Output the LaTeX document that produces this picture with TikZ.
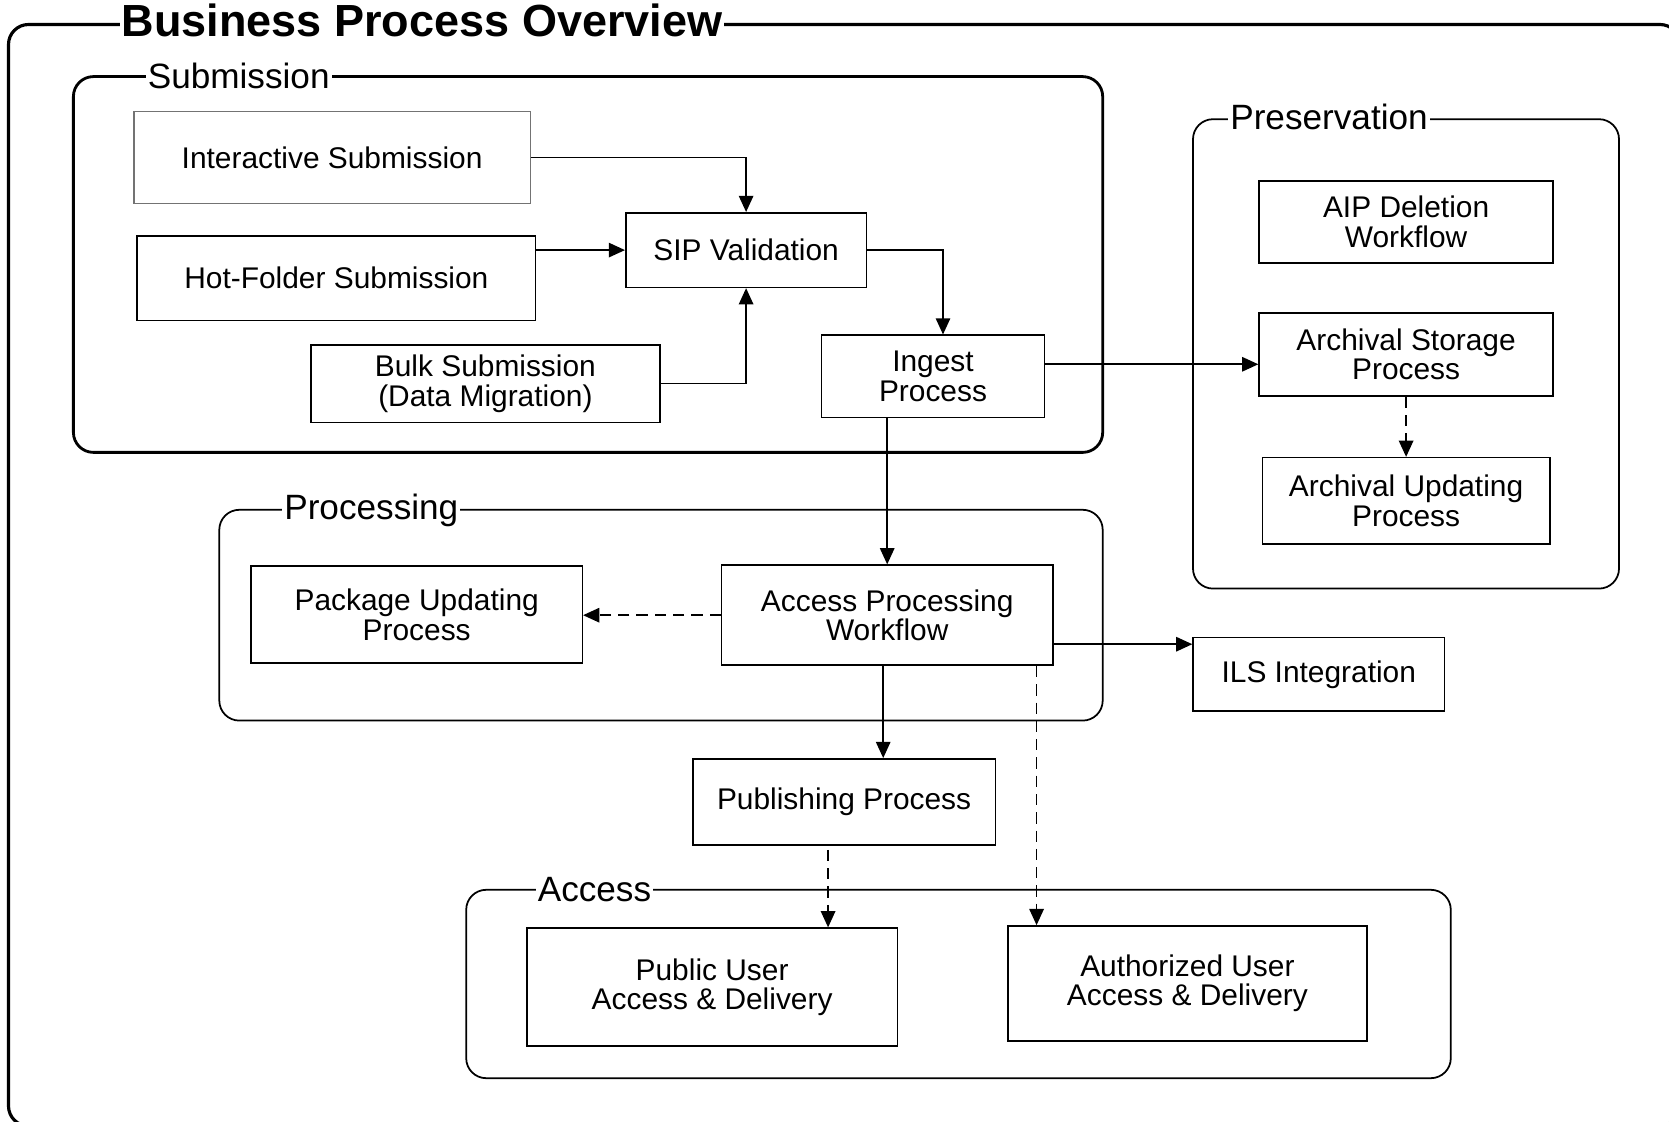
\documentclass[tikz,border=0pt]{standalone}
\usepackage{fontspec}
\setmainfont{Liberation Sans}
\usetikzlibrary{arrows.meta}
\begin{document}
\begin{tikzpicture}[x=0.01cm,y=-0.01cm,
  box/.style={draw, line width=0.45pt, align=center, font=\fontsize{8.5}{8.4}\selectfont, inner sep=0pt},
  frame/.style={draw, line width=0.5pt, rounded corners=0.2cm},
  thickframe/.style={frame, line width=0.8pt},
  flabel/.style={fill=white, inner xsep=0.6pt, inner ysep=1pt, anchor=base west, font=\fontsize{10}{12}\selectfont},
  arr/.style={line width=0.45pt, -{Triangle[length=4.6pt,width=4.1pt]}},
  darr/.style={arr, dash pattern=on 3.2pt off 2pt}]
\useasboundingbox (0,0) rectangle (1669,1122);
\clip (0,0) rectangle (1669,1122);

% frames
\draw[thickframe, line width=0.9pt] (8.5,24.5) rectangle (1680,1126);
\draw[thickframe] (73.4,76.6) rectangle (1102.7,452.4);
\draw[frame] (1193,119.2) rectangle (1619,588.6);
\draw[frame] (219.3,509.8) rectangle (1102.7,720.6);
\draw[frame] (466.2,889.8) rectangle (1450.8,1078.2);

% frame labels
\node[flabel, font=\bfseries\fontsize{12.8}{14}\selectfont] (title) at (119,37) {Business Process Overview};
\node[flabel] (sublabel) at (145,89) {Submission};
\node[flabel] (preslabel) at (1227.5,129.7) {Preservation};
\node[flabel] (proclabel) at (281.5,520) {Processing};
\node[flabel] (acclabel) at (535,901.5) {Access};

% boxes
\node[box, draw=black!55, line width=0.35pt, minimum width=3.96cm, minimum height=0.915cm] (int) at (332.1,157.5) {Interactive Submission};
\node[box, minimum width=3.98cm, minimum height=0.84cm] (hot) at (336.4,278.3) {Hot-Folder Submission};
\node[box, minimum width=3.49cm, minimum height=0.777cm] (bulk) at (485.4,383.7) {Bulk Submission\\(Data Migration)};
\node[box, minimum width=2.405cm, minimum height=0.745cm] (sip) at (746.1,250.1) {SIP Validation};
\node[box, minimum width=2.225cm, minimum height=0.82cm] (ingest) at (933,376.3) {Ingest\\Process};
\node[box, minimum width=2.938cm, minimum height=0.82cm] (aip) at (1406.1,222) {AIP Deletion\\Workflow};
\node[box, minimum width=2.938cm, minimum height=0.83cm] (store) at (1406.1,354.5) {Archival Storage\\Process};
\node[box, minimum width=2.874cm, minimum height=0.862cm] (upd) at (1406.1,500.8) {Archival Updating\\Process};
\node[box, minimum width=3.31cm, minimum height=0.968cm] (pkg) at (416.7,614.7) {Package Updating\\Process};
\node[box, minimum width=3.31cm, minimum height=1.0cm] (apw) at (887.2,615.2) {Access Processing\\Workflow};
\node[box, minimum width=2.512cm, minimum height=0.734cm] (ils) at (1318.8,674.3) {ILS Integration};
\node[box, minimum width=3.022cm, minimum height=0.862cm] (pub) at (844.1,802) {Publishing Process};
\node[box, minimum width=3.704cm, minimum height=1.18cm] (pubuser) at (712.1,987.2) {Public User\\Access \& Delivery};
\node[box, minimum width=3.587cm, minimum height=1.15cm] (auth) at (1187.4,983.5) {Authorized User\\Access \& Delivery};

% connectors
\draw[arr] (int.east) -| (sip.north);
\draw[arr] (sip.west -| hot.east) -- (sip.west);
\draw[arr] (bulk.east) -| (sip.south);
\draw[arr] (sip.east) -| ([xshift=0.1cm]ingest.north);
\draw[arr] ([yshift=0.12cm]ingest.east) coordinate (a5) -- (a5 -| store.west);
\draw[arr] (apw.north |- ingest.south) -- (apw.north);
\draw[darr] (apw.west) -- (apw.west -| pkg.east);
\draw[arr] ([yshift=-0.29cm]apw.east) coordinate (a8) -- (a8 -| ils.west);
\draw[arr] ([xshift=-0.04cm]apw.south) coordinate (a9) -- (a9 |- pub.north);
\draw[darr] ([xshift=-0.17cm]apw.south east) coordinate (a10) -- (a10 |- auth.north);
\draw[darr] ([xshift=-0.16cm,yshift=-0.04cm]pub.south) coordinate (a11) -- (a11 |- pubuser.north);
\draw[darr] (store.south) -- (upd.north);
\end{tikzpicture}
\end{document}
